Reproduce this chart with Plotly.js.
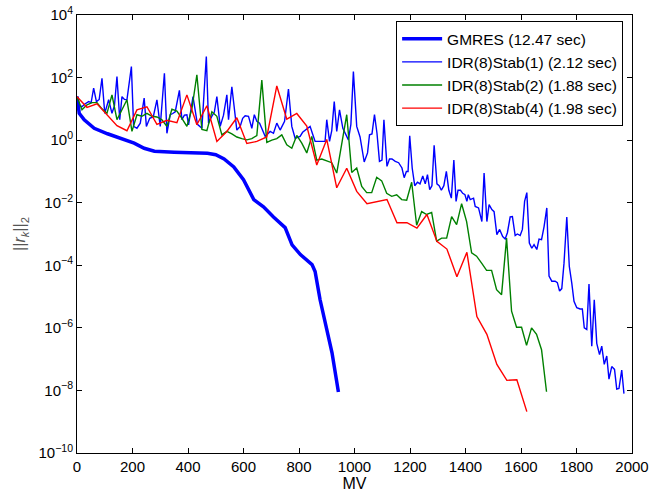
<!DOCTYPE html>
<html>
<head>
<meta charset="utf-8">
<script src="https://cdn.plot.ly/plotly-3.0.1.min.js"></script>
<style>html,body{margin:0;padding:0;background:#fff;}#chart{width:649px;height:497px;}</style>
</head>
<body>
<div id="chart"></div>
<script>
const seriesNames = ['GMRES (12.47 sec)', 'IDR(8)Stab(1) (2.12 sec)', 'IDR(8)Stab(2) (1.88 sec)', 'IDR(8)Stab(4) (1.98 sec)'];

const gmresX = [0, 8, 26, 62, 110, 170, 206, 242, 279, 350, 400, 470, 500, 530, 565, 600, 637, 672, 708, 750, 775, 805, 847, 858, 876, 900, 919, 942];
const gmresY = [25, 7.2, 4.5, 2.4, 1.6, 1.0, 0.8, 0.55, 0.44, 0.41, 0.40, 0.38, 0.34, 0.25, 0.14, 0.054, 0.0126, 0.0074, 0.0035, 0.0016, 4.5e-4, 2.2e-4, 1.05e-4, 6.3e-5, 7.9e-6, 7.9e-7, 1.6e-7, 8.9e-9];

const stab1X = [0, 9, 18, 27, 42, 51, 60, 70, 80, 90, 100, 108, 114, 126, 135, 144, 154, 162, 171, 180, 196, 204, 216, 228, 242, 250, 262, 275, 288, 300, 315, 324, 336, 345, 354, 369, 378, 387, 396, 402, 418, 434, 450, 466, 474, 486, 495, 504, 516, 528, 540, 546, 558, 576, 588, 597, 606, 618, 630, 639, 648, 658, 668, 678, 687, 696, 708, 720, 732, 748, 762, 774, 786, 795, 804, 813, 822, 831, 840, 849, 858, 867, 876, 885, 894, 900, 910, 918, 927, 936, 946, 958, 968, 978, 987, 996, 1008, 1020, 1035, 1047, 1054, 1063, 1072, 1081, 1090, 1099, 1106, 1117, 1126, 1135, 1147, 1159, 1171, 1179, 1187, 1193, 1199, 1208, 1217, 1227, 1236, 1246, 1255, 1263, 1271, 1279, 1287, 1297, 1305, 1313, 1322, 1331, 1340, 1349, 1358, 1366, 1373, 1382, 1390, 1398, 1405, 1410, 1417, 1429, 1435, 1447, 1459, 1467, 1477, 1485, 1495, 1503, 1513, 1523, 1534, 1543, 1551, 1561, 1569, 1579, 1587, 1597, 1605, 1613, 1621, 1630, 1639, 1647, 1657, 1665, 1674, 1683, 1693, 1701, 1711, 1723, 1731, 1739, 1747, 1755, 1765, 1774, 1783, 1791, 1801, 1813, 1821, 1828, 1837, 1845, 1855, 1864, 1873, 1883, 1891, 1900, 1909, 1917, 1927, 1937, 1945, 1953, 1963, 1971];
const stab1Y = [24.5, 12.6, 11.7, 14.1, 17, 15.8, 46, 17, 20, 95, 7.2, 12.6, 19.5, 7.2, 12.6, 107, 4.5, 24.5, 20, 19.5, 224, 2.75, 2.4, 3.5, 22, 2.75, 5.0, 5.6, 19.5, 2.75, 138, 1.66, 6.5, 7.1, 8.1, 39, 4.5, 6.3, 6.5, 3.1, 24.5, 3.2, 2.4, 468, 3.5, 5.8, 7.9, 24.5, 2.75, 6.3, 28, 4.5, 51, 2.1, 2.75, 5.0, 6.0, 5.8, 2.4, 6.5, 4.0, 3.5, 2.0, 1.32, 1.58, 1.9, 1.66, 3.5, 2.1, 4.0, 43, 2.75, 1.15, 1.26, 1.32, 1.78, 2.1, 2.5, 2.75, 1.58, 0.91, 0.91, 0.91, 0.95, 0.91, 4.5, 0.91, 2.0, 17, 1.9, 9.3, 2.4, 1.58, 1.02, 3.2, 155, 2.75, 1.26, 0.2, 0.39, 1.48, 1.58, 6.5, 1.66, 0.21, 0.23, 4.5, 0.145, 0.25, 0.25, 0.21, 0.19, 0.129, 0.063, 0.1, 0.1, 1.38, 0.126, 0.035, 0.045, 0.04, 0.071, 0.04, 0.079, 0.026, 0.035, 0.69, 0.04, 0.035, 0.025, 0.035, 0.1, 0.025, 0.014, 0.23, 0.011, 0.025, 0.025, 0.02, 0.018, 0.011, 0.018, 0.0126, 0.014, 0.0076, 0.0068, 0.0025, 0.089, 0.0025, 0.0087, 0.006, 0.0052, 9.5e-4, 0.0014, 8.3e-4, 6.9e-4, 0.0011, 0.0035, 0.0036, 8.9e-4, 0.001, 8.9e-4, 0.0014, 0.011, 0.021, 5.1e-4, 3.5e-4, 4.6e-4, 3.2e-4, 6.9e-4, 6.6e-4, 0.0017, 0.0068, 4.5e-5, 3.1e-5, 3.1e-5, 2.8e-5, 1.5e-5, 1.8e-5, 1.17e-4, 0.0035, 9.3e-5, 2.7e-5, 7.1e-6, 4.4e-6, 4.0e-6, 4.0e-6, 1.0e-6, 8.9e-7, 2.5e-5, 2.6e-7, 7.9e-6, 3.2e-7, 1.4e-7, 2.6e-7, 6.8e-8, 1.26e-7, 2.3e-8, 5.8e-8, 4.7e-8, 1.1e-8, 1.15e-8, 4.5e-8, 7.9e-9];

const stab2X = [0, 18, 36, 54, 72, 90, 108, 126, 144, 162, 180, 198, 216, 234, 252, 270, 288, 306, 324, 342, 360, 378, 396, 414, 432, 450, 468, 486, 504, 522, 540, 558, 576, 594, 612, 630, 648, 666, 684, 702, 720, 738, 756, 774, 792, 810, 828, 846, 864, 882, 900, 918, 936, 954, 972, 990, 1008, 1026, 1044, 1062, 1080, 1098, 1116, 1134, 1152, 1170, 1188, 1206, 1224, 1242, 1260, 1278, 1296, 1314, 1332, 1350, 1368, 1386, 1404, 1422, 1440, 1458, 1476, 1494, 1512, 1530, 1548, 1566, 1584, 1602, 1620, 1638, 1656, 1674, 1692];
const stab2Y = [24.5, 9.3, 13.5, 15.8, 15.8, 10, 7.2, 28, 4.5, 10, 19.5, 1.9, 6.5, 5.8, 7.2, 5.8, 5.5, 4.5, 2.75, 9.8, 8.5, 5.0, 2.75, 10, 123, 2.2, 2.0, 8.1, 5.8, 1.48, 1.9, 1.58, 1.26, 1.12, 1.02, 1.12, 1.41, 83, 0.85, 1.0, 1.12, 1.48, 0.71, 0.55, 1.41, 0.8, 0.39, 1.32, 0.23, 0.25, 0.22, 0.19, 0.089, 0.79, 6.5, 0.093, 0.129, 0.033, 0.021, 0.021, 0.065, 0.05, 0.020, 0.016, 0.018, 0.0126, 0.012, 0.045, 0.0019, 0.0052, 0.0042, 0.0049, 5.9e-4, 7.4e-4, 7.4e-4, 0.0036, 0.002, 0.0093, 0.0025, 2.5e-4, 1.95e-4, 1.17e-4, 6.9e-5, 6.9e-5, 1.66e-5, 1.15e-5, 7.4e-4, 3.4e-6, 1.05e-6, 1.05e-6, 2.75e-7, 1.0e-6, 6.2e-7, 2.0e-7, 9.1e-9];

const stab4X = [0, 36, 72, 108, 144, 180, 216, 252, 288, 324, 360, 396, 432, 468, 504, 540, 576, 612, 648, 684, 720, 756, 792, 828, 864, 900, 936, 972, 1008, 1045, 1081, 1117, 1153, 1189, 1225, 1261, 1297, 1333, 1369, 1405, 1441, 1477, 1513, 1549, 1585, 1621];
const stab4Y = [24.5, 11.2, 14.5, 6.5, 2.9, 2.0, 9.3, 11.7, 3.2, 4.3, 3.6, 28, 3.1, 12.6, 0.91, 1.9, 5.2, 0.78, 0.91, 1.26, 54, 4.7, 7.1, 2.8, 0.16, 1.05, 0.030, 0.126, 0.023, 0.0093, 0.011, 0.0126, 0.0023, 0.0023, 0.00155, 0.0042, 5.8e-4, 3.3e-4, 4.3e-5, 2.6e-4, 2.3e-6, 6.2e-7, 6.8e-8, 2.1e-8, 2.2e-8, 2.1e-9];

const xTicks = [0, 200, 400, 600, 800, 1000, 1200, 1400, 1600, 1800, 2000];
const yTickVals = [1e-10, 1e-8, 1e-6, 1e-4, 1e-2, 1, 1e2, 1e4];
const yTickText = ['10<sup>−10</sup>', '10<sup>−8</sup>', '10<sup>−6</sup>', '10<sup>−4</sup>', '10<sup>−2</sup>', '10<sup>0</sup>', '10<sup>2</sup>', '10<sup>4</sup>'];

const traces = [
  {x: gmresX, y: gmresY, name: seriesNames[0], mode: 'lines', line: {color: '#0000ff', width: 3.5}},
  {x: stab1X, y: stab1Y, name: seriesNames[1], mode: 'lines', line: {color: '#0000ff', width: 1.4}},
  {x: stab2X, y: stab2Y, name: seriesNames[2], mode: 'lines', line: {color: '#008000', width: 1.4}},
  {x: stab4X, y: stab4Y, name: seriesNames[3], mode: 'lines', line: {color: '#ff0000', width: 1.4}}
];

const font = {family: 'Liberation Sans, Arial, Helvetica, sans-serif', size: 15, color: '#000'};
const layout = {
  width: 649, height: 497,
  margin: {l: 77, r: 17, t: 15, b: 44, pad: 0},
  paper_bgcolor: '#fff', plot_bgcolor: '#fff',
  font: font,
  showlegend: true,
  legend: {x: 0.984, y: 0.986, xanchor: 'right', yanchor: 'top', bgcolor: '#fff', bordercolor: '#000', borderwidth: 1, itemwidth: 40, font: {family: font.family, size: 15.5, color: '#000'}, tracegroupgap: 0},
  xaxis: {
    range: [0, 2000], tickvals: xTicks, ticktext: xTicks.map(String),
    ticks: 'inside', ticklen: 5, tickcolor: '#000', tickwidth: 1,
    showline: true, linecolor: '#000', linewidth: 1, mirror: 'ticks',
    showgrid: false, zeroline: false,
    tickfont: {size: 15},
    title: {text: 'MV', font: {size: 16}, standoff: 2}
  },
  yaxis: {
    type: 'log', range: [-10, 4], tickvals: yTickVals, ticktext: yTickText,
    ticks: 'inside', ticklen: 5, tickcolor: '#000', tickwidth: 1,
    showline: true, linecolor: '#000', linewidth: 1, mirror: 'ticks',
    showgrid: false, zeroline: false,
    tickfont: {size: 15},
    title: {text: '||<i>r<sub>k</sub></i>||<sub>2</sub>', font: {size: 16, color: '#555'}, standoff: 8}
  }
};

Plotly.newPlot('chart', traces, layout, {displayModeBar: false, staticPlot: true});
</script>
</body>
</html>
